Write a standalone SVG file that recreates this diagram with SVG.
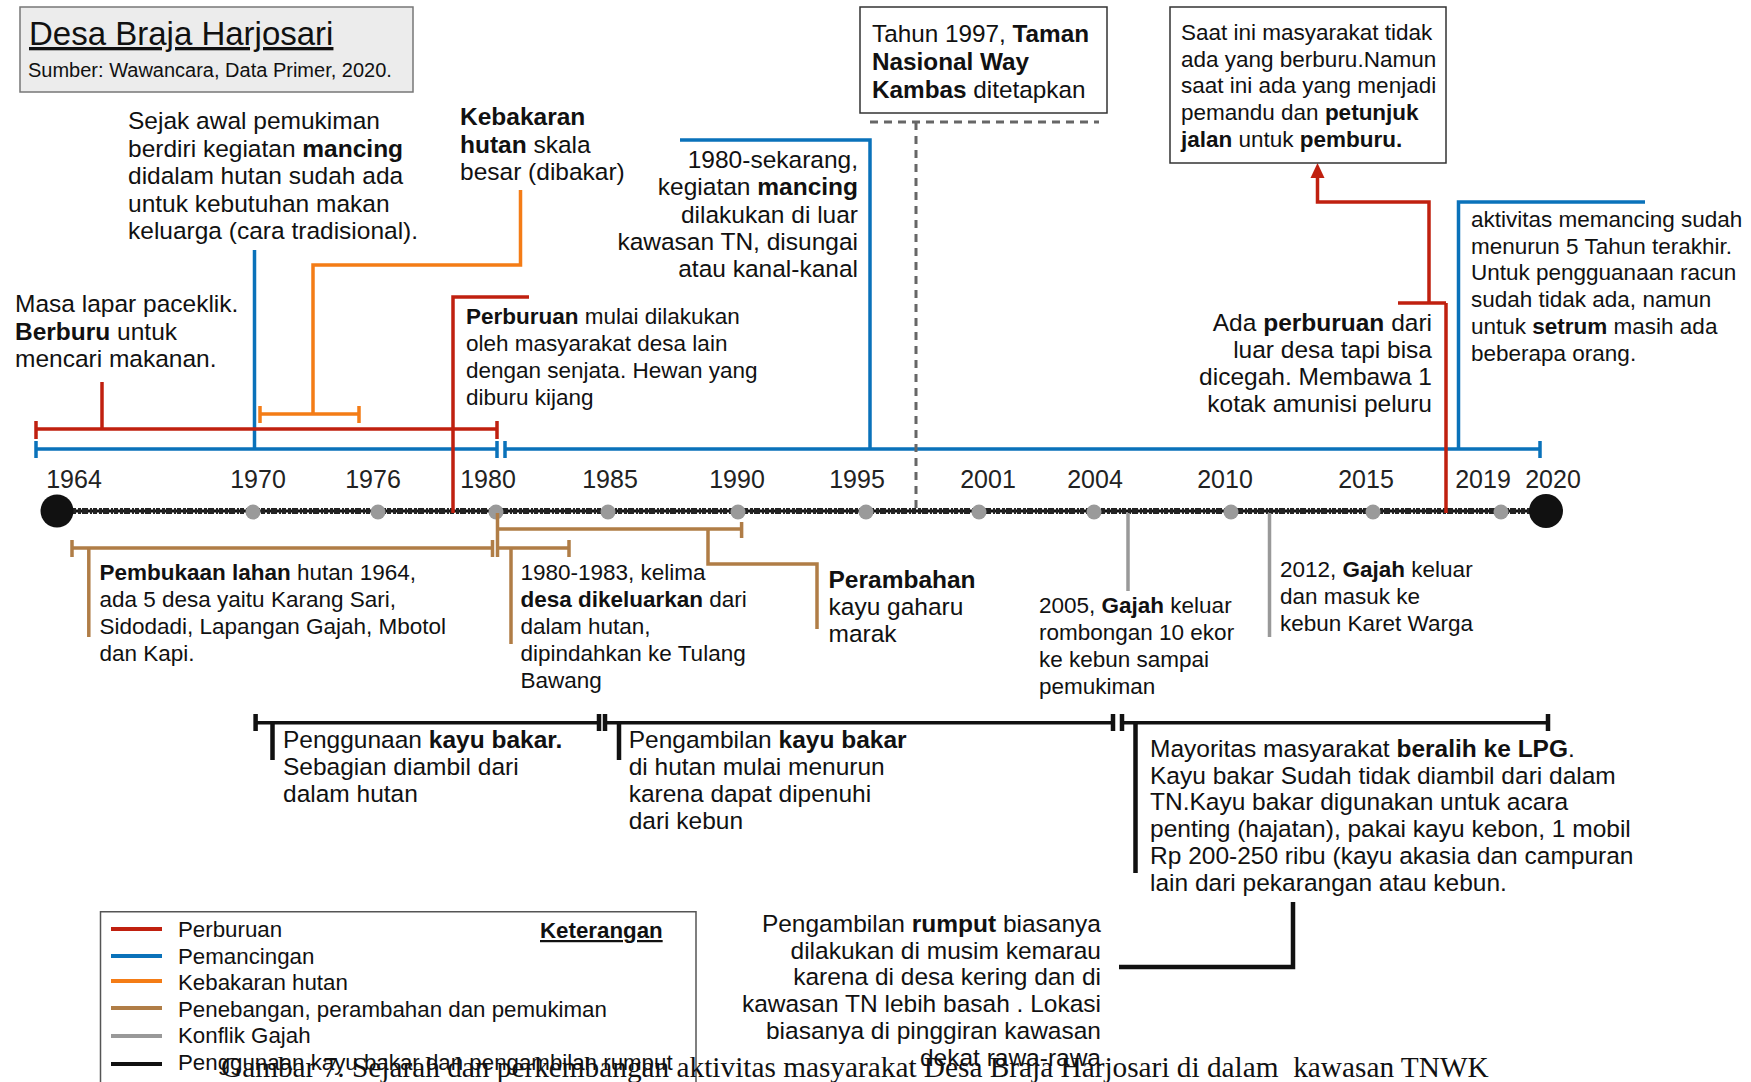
<svg xmlns="http://www.w3.org/2000/svg" width="1751" height="1082" viewBox="0 0 1751 1082">
<defs>
<style>
text{font-family:"Liberation Sans",Arial,Helvetica,sans-serif;fill:#111}
.f24{font-size:24.5px}
.f22{font-size:22.5px}
.lg{font-size:22.3px}
.yr{font-size:25px;fill:#222;text-anchor:middle}
.b{font-weight:bold}
.r{text-anchor:end}
.red{stroke:#c0200f;stroke-width:3.5;fill:none}
.blu{stroke:#0a72ba;stroke-width:3.5;fill:none}
.org{stroke:#f47c16;stroke-width:3.5;fill:none}
.brn{stroke:#b07d46;stroke-width:3.5;fill:none}
.gry{stroke:#999;stroke-width:3.5;fill:none}
.blk{stroke:#111;stroke-width:3.5;fill:none}
.tk{stroke-width:4.5}
</style>
</defs>
<rect width="1751" height="1082" fill="#fff"/>

<!-- Title -->
<g id="title">
<rect x="20" y="7" width="393" height="85" fill="#ececec" stroke="#777" stroke-width="1.5"/>
<text x="29" y="45" style="font-size:33px;text-decoration:underline">Desa Braja Harjosari</text>
<text x="28" y="77" style="font-size:20px">Sumber: Wawancara, Data Primer, 2020.</text>
</g>

<!-- Axis / timeline -->
<g id="timeline">
<line x1="57" y1="511" x2="1546" y2="511" stroke="#111" stroke-width="3"/>
<line x1="57" y1="511" x2="1546" y2="511" stroke="#222" stroke-width="6" stroke-dasharray="3 1 6 2 2 1 4 2"/>
<g fill="#9a9a9a">
<circle cx="253" cy="512" r="7.5"/><circle cx="378" cy="512" r="7.5"/><circle cx="496" cy="512" r="7.5"/>
<circle cx="608" cy="512" r="7.5"/><circle cx="738" cy="512" r="7.5"/><circle cx="866" cy="512" r="7.5"/>
<circle cx="979" cy="512" r="7.5"/><circle cx="1094" cy="512" r="7.5"/><circle cx="1231" cy="512" r="7.5"/>
<circle cx="1373" cy="512" r="7.5"/><circle cx="1501" cy="512" r="7.5"/>
</g>
<circle cx="57" cy="511" r="16.5" fill="#111"/>
<circle cx="1546" cy="511" r="17" fill="#111"/>
<text class="yr" x="74" y="488">1964</text>
<text class="yr" x="258" y="488">1970</text>
<text class="yr" x="373" y="488">1976</text>
<text class="yr" x="488" y="488">1980</text>
<text class="yr" x="610" y="488">1985</text>
<text class="yr" x="737" y="488">1990</text>
<text class="yr" x="857" y="488">1995</text>
<text class="yr" x="988" y="488">2001</text>
<text class="yr" x="1095" y="488">2004</text>
<text class="yr" x="1225" y="488">2010</text>
<text class="yr" x="1366" y="488">2015</text>
<text class="yr" x="1483" y="488">2019</text>
<text class="yr" x="1553" y="488">2020</text>
</g>

<!-- Connectors -->
<g id="connectors">
<!-- blue fishing axis -->
<path class="blu" d="M36,449 H497 M36,441 V458 M497,441 V458"/>
<path class="blu" d="M505,449 H1540 M505,441 V458 M1540,441 V458"/>
<path class="blu" d="M254.5,250 V449"/>
<path class="blu" d="M680,140 H870 V449"/>
<path class="blu" d="M1645,202 H1458.5 V449"/>
<!-- red hunting -->
<path class="red" d="M36,429 H497 M36,421 V439 M497,421 V439"/>
<path class="red" d="M102,382 V429"/>
<path class="red" d="M529,297 H453 V513"/>
<path class="red" d="M1446,513 V303 M1398,303 H1446 M1429,303 V202 H1317.5 V172"/>
<path d="M1317.5,163 L1324.5,178 L1310.5,178 Z" fill="#c0200f"/>
<!-- orange fire -->
<path class="org" d="M260,414 H359 M260,406 V423 M359,406 V423"/>
<path class="org" d="M313,414 V265 H520.5 V190"/>
<!-- dashed 1997 -->
<path d="M870,122 H1099 M916,122 V510" stroke="#666" stroke-width="3" stroke-dasharray="8 6" fill="none"/>
<!-- brown -->
<path class="brn" d="M72,548 H492.5 M72,540 V557 M492.5,540 V557"/>
<path class="brn" d="M88.8,548 V637"/>
<path class="brn" d="M497.5,513 V557 M497.5,548 H569 M569,540 V557"/>
<path class="brn" d="M511,548 V644"/>
<path class="brn" d="M497.5,529 H741.6 M741.6,522 V538"/>
<path class="brn" d="M708,529 V564 H817 V629"/>
<!-- grey elephant -->
<path class="gry" d="M1128,513 V591"/>
<path class="gry" d="M1269.5,513 V637"/>
<!-- black firewood -->
<path class="blk" d="M255.6,722.7 H599"/>
<path class="blk tk" d="M255.6,714 V731 M599,714 V731 M272.5,722 V760"/>
<path class="blk" d="M605,722.7 H1113"/>
<path class="blk tk" d="M605,714 V731 M1113,714 V731 M619,722 V760"/>
<path class="blk" d="M1122,722.7 H1548"/>
<path class="blk tk" d="M1122,714 V731 M1548,714 V731 M1135.5,722 V873"/>
<path class="blk tk" d="M1293,902 V967 H1119"/>
</g>

<!-- Annotations -->
<g id="n-sejak">
<text class="f24" x="128" y="129">Sejak awal pemukiman</text>
<text class="f24" x="128" y="156.5">berdiri kegiatan <tspan class="b">mancing</tspan></text>
<text class="f24" x="128" y="184">didalam hutan sudah ada</text>
<text class="f24" x="128" y="211.5">untuk kebutuhan makan</text>
<text class="f24" x="128" y="239">keluarga (cara tradisional).</text>
</g>
<g id="n-kebakaran">
<text class="f24" x="460" y="125"><tspan class="b">Kebakaran</tspan></text>
<text class="f24" x="460" y="152.5"><tspan class="b">hutan</tspan> skala</text>
<text class="f24" x="460" y="180">besar (dibakar)</text>
</g>
<g id="n-masa">
<text class="f24" x="15" y="312">Masa lapar paceklik.</text>
<text class="f24" x="15" y="339.5"><tspan class="b">Berburu</tspan> untuk</text>
<text class="f24" x="15" y="367">mencari makanan.</text>
</g>
<g id="n-1980sekarang">
<text class="f24 r" x="858" y="168">1980-sekarang,</text>
<text class="f24 r" x="858" y="195.3">kegiatan <tspan class="b">mancing</tspan></text>
<text class="f24 r" x="858" y="222.6">dilakukan di luar</text>
<text class="f24 r" x="858" y="249.9">kawasan TN, disungai</text>
<text class="f24 r" x="858" y="277.2">atau kanal-kanal</text>
</g>
<g id="n-tahun1997">
<rect x="860" y="7" width="247" height="106" fill="#fff" stroke="#333" stroke-width="1.5"/>
<text x="872" y="42" style="font-size:24.3px">Tahun 1997, <tspan class="b">Taman</tspan></text>
<text x="872" y="70" style="font-size:24.3px"><tspan class="b">Nasional Way</tspan></text>
<text x="872" y="98" style="font-size:24.3px"><tspan class="b">Kambas</tspan> ditetapkan</text>
</g>
<g id="n-saatini">
<rect x="1170" y="7" width="276" height="156" fill="#fff" stroke="#333" stroke-width="1.5"/>
<text class="f22" x="1181" y="40">Saat ini masyarakat tidak</text>
<text class="f22" x="1181" y="66.7">ada yang berburu.Namun</text>
<text class="f22" x="1181" y="93.4">saat ini ada yang menjadi</text>
<text class="f22" x="1181" y="120.1">pemandu dan <tspan class="b">petunjuk</tspan></text>
<text class="f22" x="1181" y="146.8"><tspan class="b">jalan</tspan> untuk <tspan class="b">pemburu.</tspan></text>
</g>
<g id="n-perburuan">
<text class="f22" x="466" y="324"><tspan class="b">Perburuan</tspan> mulai dilakukan</text>
<text class="f22" x="466" y="351">oleh masyarakat desa lain</text>
<text class="f22" x="466" y="378">dengan senjata. Hewan yang</text>
<text class="f22" x="466" y="405">diburu kijang</text>
</g>
<g id="n-ada">
<text class="f24 r" x="1432" y="331">Ada <tspan class="b">perburuan</tspan> dari</text>
<text class="f24 r" x="1432" y="358">luar desa tapi bisa</text>
<text class="f24 r" x="1432" y="385">dicegah. Membawa 1</text>
<text class="f24 r" x="1432" y="412">kotak amunisi peluru</text>
</g>
<g id="n-aktivitas">
<text class="f22" x="1471" y="227">aktivitas memancing sudah</text>
<text class="f22" x="1471" y="253.7">menurun 5 Tahun terakhir.</text>
<text class="f22" x="1471" y="280.4">Untuk pengguanaan racun</text>
<text class="f22" x="1471" y="307.1">sudah tidak ada, namun</text>
<text class="f22" x="1471" y="333.8">untuk <tspan class="b">setrum</tspan> masih ada</text>
<text class="f22" x="1471" y="360.5">beberapa orang.</text>
</g>
<g id="n-pembukaan">
<text class="f22" x="99.5" y="580"><tspan class="b">Pembukaan lahan</tspan> hutan 1964,</text>
<text class="f22" x="99.5" y="607">ada 5 desa yaitu Karang Sari,</text>
<text class="f22" x="99.5" y="634">Sidodadi, Lapangan Gajah, Mbotol</text>
<text class="f22" x="99.5" y="661">dan Kapi.</text>
</g>
<g id="n-1980-1983">
<text class="f22" x="520.5" y="580">1980-1983, kelima</text>
<text class="f22" x="520.5" y="607"><tspan class="b">desa dikeluarkan</tspan> dari</text>
<text class="f22" x="520.5" y="634">dalam hutan,</text>
<text class="f22" x="520.5" y="661">dipindahkan ke Tulang</text>
<text class="f22" x="520.5" y="688">Bawang</text>
</g>
<g id="n-perambahan">
<text class="f24 b" x="828.5" y="588">Perambahan</text>
<text class="f24" x="828.5" y="615">kayu gaharu</text>
<text class="f24" x="828.5" y="642">marak</text>
</g>
<g id="n-2005">
<text class="f22" x="1039" y="613">2005, <tspan class="b">Gajah</tspan> keluar</text>
<text class="f22" x="1039" y="640">rombongan 10 ekor</text>
<text class="f22" x="1039" y="667">ke kebun sampai</text>
<text class="f22" x="1039" y="694">pemukiman</text>
</g>
<g id="n-2012">
<text class="f22" x="1280" y="577">2012, <tspan class="b">Gajah</tspan> keluar</text>
<text class="f22" x="1280" y="604">dan masuk ke</text>
<text class="f22" x="1280" y="631">kebun Karet Warga</text>
</g>
<g id="n-penggunaan">
<text class="f24" x="283" y="748">Penggunaan <tspan class="b">kayu bakar.</tspan></text>
<text class="f24" x="283" y="775">Sebagian diambil dari</text>
<text class="f24" x="283" y="802">dalam hutan</text>
</g>
<g id="n-pengambilan">
<text class="f24" x="628.7" y="748">Pengambilan <tspan class="b">kayu bakar</tspan></text>
<text class="f24" x="628.7" y="775">di hutan mulai menurun</text>
<text class="f24" x="628.7" y="802">karena dapat dipenuhi</text>
<text class="f24" x="628.7" y="829">dari kebun</text>
</g>
<g id="n-mayoritas">
<text class="f24" x="1150" y="757">Mayoritas masyarakat <tspan class="b">beralih ke LPG</tspan>.</text>
<text class="f24" x="1150" y="783.7">Kayu bakar Sudah tidak diambil dari dalam</text>
<text class="f24" x="1150" y="810.4">TN.Kayu bakar digunakan untuk acara</text>
<text class="f24" x="1150" y="837.1">penting (hajatan), pakai kayu kebon, 1 mobil</text>
<text class="f24" x="1150" y="863.8">Rp 200-250 ribu (kayu akasia dan campuran</text>
<text class="f24" x="1150" y="890.5">lain dari pekarangan atau kebun.</text>
</g>
<g id="n-rumput">
<text class="f24 r" x="1101" y="932">Pengambilan <tspan class="b">rumput</tspan> biasanya</text>
<text class="f24 r" x="1101" y="958.7">dilakukan di musim kemarau</text>
<text class="f24 r" x="1101" y="985.4">karena di desa kering dan di</text>
<text class="f24 r" x="1101" y="1012.1">kawasan TN lebih basah . Lokasi</text>
<text class="f24 r" x="1101" y="1038.8">biasanya di pinggiran kawasan</text>
<text class="f24 r" x="1101" y="1065.5">dekat rawa-rawa</text>
</g>

<!-- Legend -->
<g id="legend">
<path d="M100.5,1082 V911.7 H696 V1082" fill="#fff" stroke="#555" stroke-width="1.5"/>
<g stroke-width="4">
<line x1="111" y1="929" x2="162" y2="929" stroke="#c0200f"/>
<line x1="111" y1="956" x2="162" y2="956" stroke="#0a72ba"/>
<line x1="111" y1="981" x2="162" y2="981" stroke="#f47c16"/>
<line x1="111" y1="1008" x2="162" y2="1008" stroke="#b07d46"/>
<line x1="111" y1="1036" x2="162" y2="1036" stroke="#999"/>
<line x1="111" y1="1064" x2="162" y2="1064" stroke="#111"/>
</g>
<text class="lg" x="178" y="937">Perburuan</text>
<text class="lg" x="178" y="963.5">Pemancingan</text>
<text class="lg" x="178" y="990">Kebakaran hutan</text>
<text class="lg" x="178" y="1016.5">Penebangan, perambahan dan pemukiman</text>
<text class="lg" x="178" y="1043">Konflik Gajah</text>
<text class="lg" x="178" y="1070">Penggunaan kayu bakar dan pengambilan rumput</text>
<text class="lg b" x="540" y="938" style="text-decoration:underline">Keterangan</text>
</g>

<g id="caption">
<text x="221" y="1077" style="font-family:'Liberation Serif','Times New Roman',serif;font-size:29.3px;white-space:pre">Gambar 7. Sejarah dan perkembangan aktivitas masyarakat Desa Braja Harjosari di dalam  kawasan TNWK</text>
</g>
</svg>
